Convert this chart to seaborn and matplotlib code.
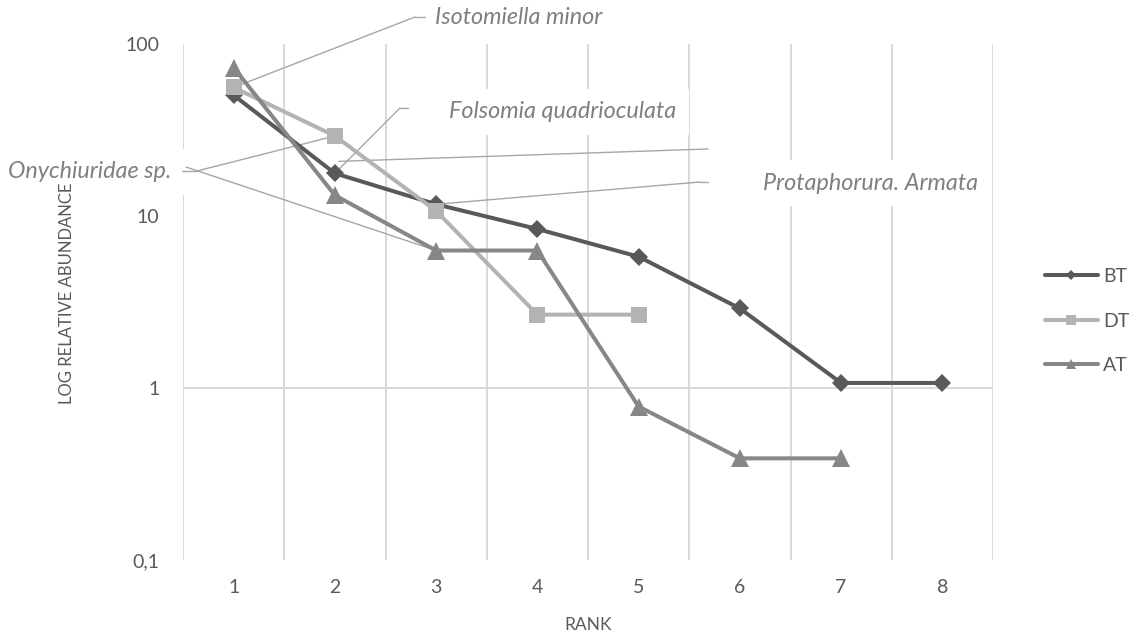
import matplotlib
matplotlib.use("Agg")
import matplotlib.pyplot as plt
from matplotlib.lines import Line2D
from matplotlib import transforms
import seaborn as sns
import pandas as pd

# Ranked relative abundance (%) per site
rank_labels = ["1", "2", "3", "4", "5", "6", "7", "8"]
bt_values = [50.4, 17.7, 11.7, 8.4, 5.8, 2.9, 1.07, 1.07]
dt_values = [55.9, 29.2, 10.7, 2.67, 2.67]
at_values = [73.0, 13.2, 6.3, 6.3, 0.78, 0.39, 0.39]
series_names = ["BT", "DT", "AT"]
y_ticks = [0.1, 1, 10, 100]
y_tick_labels = ["0,1", "1", "10", "100"]

species_labels = ["Isotomiella minor", "Folsomia quadrioculata",
                  "Onychiuridae sp.", "Protaphorura. Armata"]

W, H = 1137, 639
sns.set_theme(style="white")
plt.rcParams["font.family"] = ["Lato", "DejaVu Sans"]

fig = plt.figure(figsize=(W / 100, H / 100), dpi=100)
ax = fig.add_axes([183 / W, 1 - 560 / H, 810 / W, 516 / H])


def fx(x):
    return x / W


def fy(y):
    return 1 - y / H


frames = []
for name, vals in zip(series_names, [bt_values, dt_values, at_values]):
    frames.append(pd.DataFrame({"rank": range(1, len(vals) + 1),
                                "abundance": vals, "site": name}))
df = pd.concat(frames, ignore_index=True)

styles = {
    "BT": dict(color="#595959", marker="D", markersize=8.8),
    "DT": dict(color="#b3b3b3", marker="s", markersize=11.5),
    "AT": dict(color="#878787", marker="^", markersize=12.5),
}

for name in series_names:
    sub = df[df["site"] == name]
    st = styles[name]
    sns.lineplot(data=sub, x="rank", y="abundance", ax=ax, color=st["color"],
                 marker=st["marker"], markersize=st["markersize"],
                 markeredgewidth=0, linewidth=2.9, zorder=4, legend=False)

ax.set_yscale("log")
ax.set_xlim(0.5, 8.5)
ax.set_ylim(0.1, 100)
ax.set_yticks(y_ticks)
ax.set_yticklabels(y_tick_labels)
ax.yaxis.set_minor_locator(matplotlib.ticker.NullLocator())
ax.set_xticks(range(1, len(rank_labels) + 1))
ax.set_xticklabels(rank_labels)
ax.set_xticks([i + 0.5 for i in range(0, len(rank_labels) + 1)], minor=True)
ax.set_axisbelow(True)
ax.grid(False)
ax.grid(True, which="minor", axis="x", color="#d9d9d9", linewidth=1.4)
ax.axhline(1, color="#d9d9d9", linewidth=1.4, zorder=0.6)
for s in ax.spines.values():
    s.set_visible(False)
ax.tick_params(axis="both", which="both", length=0, labelsize=14,
               labelcolor="#595959")
ax.tick_params(axis="y", pad=17)
ax.tick_params(axis="x", pad=14)
ax.set_xlabel("RANK", fontsize=12.5, color="#595959", labelpad=15)
ax.set_ylabel("")
fig.text(fx(67), fy(293), "LOG RELATIVE ABUNDANCE", rotation=90,
         ha="center", va="center", fontsize=12, color="#595959", zorder=5)

# Species call-outs with leader lines
lead = dict(arrowstyle="-", color="#a6a6a6", lw=1.0, shrinkA=0, shrinkB=0)
lab = dict(fontsize=16.8, style="italic", color="#7f7f7f", va="center",
           transform=fig.transFigure, zorder=1,
           bbox=dict(facecolor="white", edgecolor="none", pad=9))


def leader(point, elbow, end, xycoords="data"):
    ax.annotate("", xy=point, xycoords=xycoords,
                xytext=(fx(elbow[0]), fy(elbow[1])),
                textcoords="figure fraction", arrowprops=lead,
                annotation_clip=False, zorder=3)
    if end is not None:
        ax.add_line(Line2D([fx(elbow[0]), fx(end[0])],
                           [fy(elbow[1]), fy(end[1])],
                           transform=fig.transFigure, color="#a6a6a6",
                           lw=1.0, zorder=3, clip_on=False))


ax.text(fx(435), fy(17), species_labels[0], ha="left", **lab)
leader((1, dt_values[0]), (415, 17), (425, 17))

ax.text(fx(449), fy(112), species_labels[1], ha="left", **lab)
leader((2, bt_values[1]), (400, 108), (408, 108))

ax.text(fx(171), fy(172), species_labels[2], ha="right", **lab)
leader((2, dt_values[1]), (197, 171), (182, 171))
leader((3, at_values[2]), (186, 167), None)

ax.text(fx(763), fy(183), species_labels[3], ha="left", **lab)
leader((3, bt_values[2]), (700, 182), (708, 182))
shifted = transforms.offset_copy(ax.transData, fig=fig, x=4, y=12,
                                 units="dots")
leader((2, bt_values[1]), (708, 149), None, xycoords=shifted)

handles = [Line2D([], [], color=styles[n]["color"], marker=styles[n]["marker"],
                  markersize=styles[n]["markersize"] * 0.62,
                  markeredgewidth=0, linewidth=2.9) for n in series_names]
ax.legend(handles, series_names, loc="center left",
          bbox_to_anchor=(fx(1045), fy(321)), bbox_transform=fig.transFigure,
          frameon=False, fontsize=14, labelcolor="#595959",
          handlelength=2.7, handletextpad=0.3, labelspacing=1.4,
          borderpad=0, borderaxespad=0)

fig.savefig("out.png", dpi=100)
